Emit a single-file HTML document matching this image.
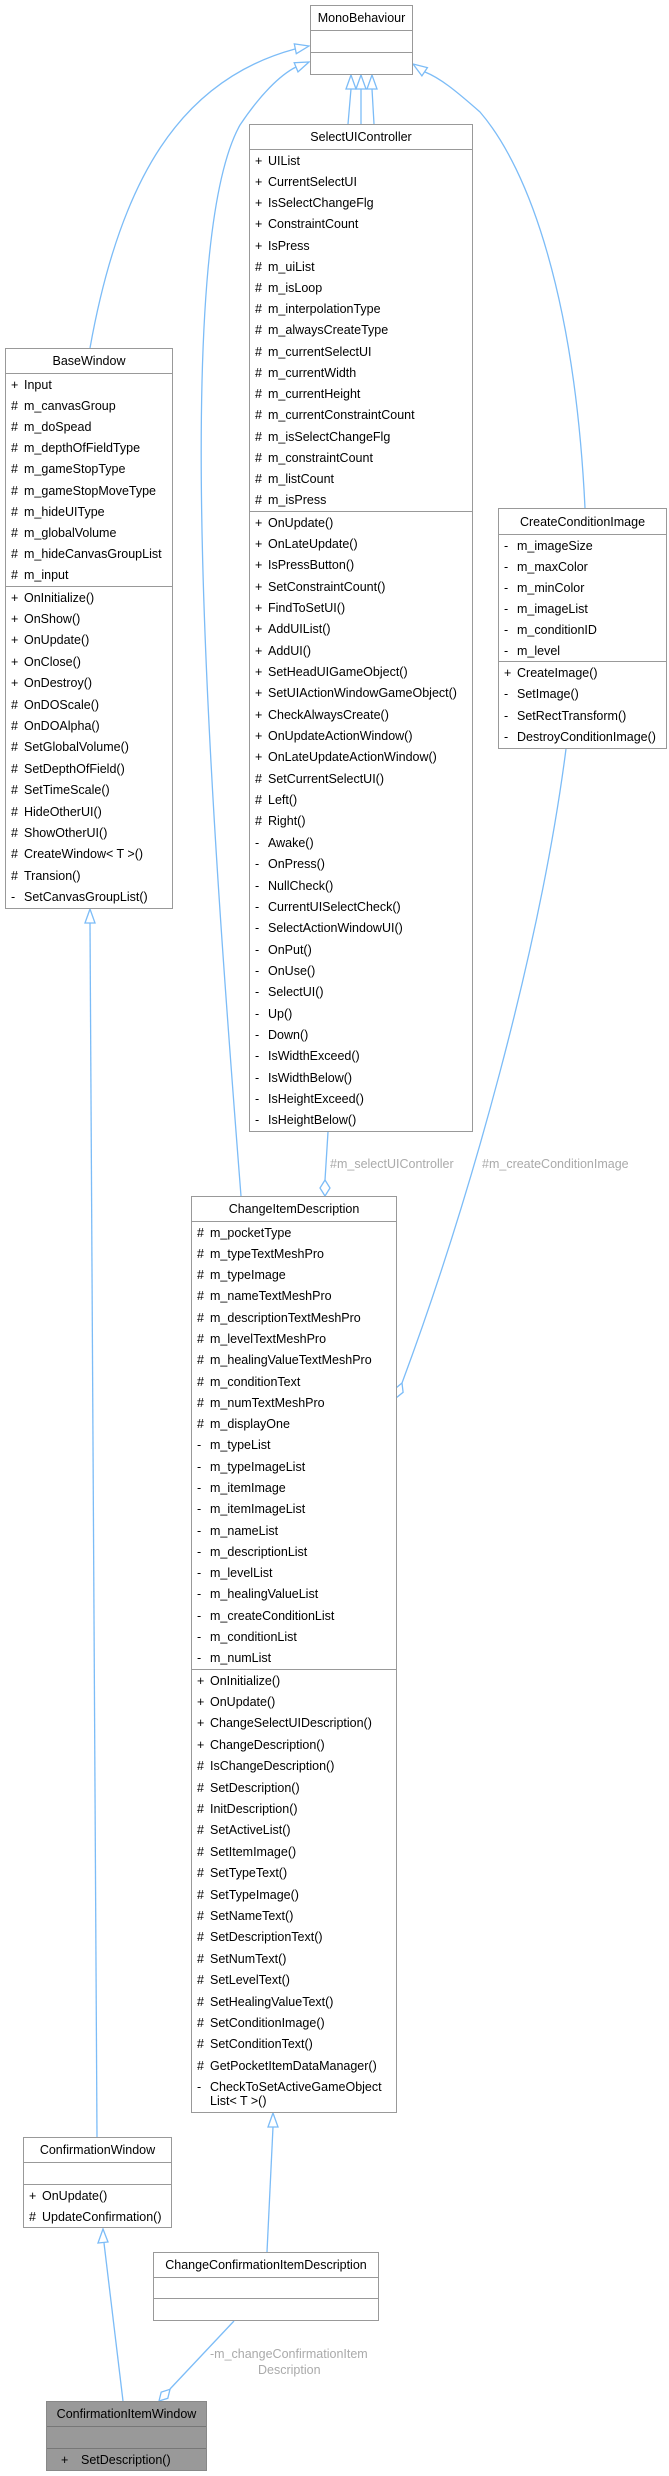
<!DOCTYPE html>
<html><head><meta charset="utf-8"><style>
body{margin:0;width:669px;height:2476px;background:#fff;position:relative;overflow:hidden;font-family:"Liberation Sans",Arial,sans-serif;font-size:12.5px;color:#000}
.b{position:absolute;border:1.5px solid #999;background:#fff;box-sizing:border-box;display:flex;flex-direction:column}
.t{text-align:center;display:flex;align-items:center;justify-content:center;flex:none;white-space:nowrap}
.s{border-top:1.5px solid #999;display:flex;flex-direction:column;justify-content:space-around;flex:none;padding-left:5px;white-space:nowrap;box-sizing:border-box}
.s div{line-height:14px}
.s i{font-style:normal;display:inline-block;width:13px}
.l{position:absolute;color:#aaa;font-size:12.5px;white-space:nowrap}
svg{position:absolute;left:0;top:0}
</style></head><body>
<svg width="669" height="2476" fill="none" stroke="#7cbcf7" stroke-width="1.3">
<path d="M90,348 C120,180 180,80 295,49"/>
<polygon points="309,46 296.3,53.7 294.3,43.9" fill="#fff"/>
<path d="M241,1196 C210,800 170,250 240,125 C260,95 280,75 296,67"/>
<polygon points="309,62 298,71.9 294.2,62.7" fill="#fff"/>
<path d="M348,124 L351,89 M361,124 L361,89 M374,124 L372,89"/>
<polygon points="351,75 346,89 356,89" fill="#fff"/>
<polygon points="361,75 356,89 366,89" fill="#fff"/>
<polygon points="372,75 367,89 377,89" fill="#fff"/>
<path d="M585,508 C575,300 530,170 480,112 C455,90 440,78 425,72"/>
<polygon points="413,64 427.4,67.6 421.9,75.9" fill="#fff"/>
<path d="M566,749 C540,950 470,1200 402,1383"/>
<polygon points="396,1398 403.1,1392.3 402,1383 394.9,1388.9" fill="#fff"/>
<path d="M328,1132 L325,1180"/>
<polygon points="325,1196 320,1188 325,1180 330,1188" fill="#fff"/>
<path d="M97,2137 L90,923"/>
<polygon points="90,909 85,923 95,923" fill="#fff"/>
<path d="M267,2252 L273,2127"/>
<polygon points="273,2113 268,2127 278,2127" fill="#fff"/>
<path d="M123,2401 L104,2243"/>
<polygon points="103,2229 98,2243 108,2242" fill="#fff"/>
<path d="M234,2321 L170,2389"/>
<polygon points="159,2401 167.8,2398.3 170,2389.3 161.2,2392.1" fill="#fff"/>
</svg>

<div class="b" style="left:310px;top:5px;width:103px;height:70px"><div class="t" style="height:24px">MonoBehaviour</div><div class="s" style="height:22px"></div><div class="s" style="flex:1"></div></div>

<div class="b" style="left:249px;top:124px;width:224px;height:1008px"><div class="t" style="height:24px">SelectUIController</div>
<div class="s" style="height:362px"><div><i>+</i>UIList</div><div><i>+</i>CurrentSelectUI</div><div><i>+</i>IsSelectChangeFlg</div><div><i>+</i>ConstraintCount</div><div><i>+</i>IsPress</div><div><i>#</i>m_uiList</div><div><i>#</i>m_isLoop</div><div><i>#</i>m_interpolationType</div><div><i>#</i>m_alwaysCreateType</div><div><i>#</i>m_currentSelectUI</div><div><i>#</i>m_currentWidth</div><div><i>#</i>m_currentHeight</div><div><i>#</i>m_currentConstraintCount</div><div><i>#</i>m_isSelectChangeFlg</div><div><i>#</i>m_constraintCount</div><div><i>#</i>m_listCount</div><div><i>#</i>m_isPress</div></div>
<div class="s" style="flex:1"><div><i>+</i>OnUpdate()</div><div><i>+</i>OnLateUpdate()</div><div><i>+</i>IsPressButton()</div><div><i>+</i>SetConstraintCount()</div><div><i>+</i>FindToSetUI()</div><div><i>+</i>AddUIList()</div><div><i>+</i>AddUI()</div><div><i>+</i>SetHeadUIGameObject()</div><div><i>+</i>SetUIActionWindowGameObject()</div><div><i>+</i>CheckAlwaysCreate()</div><div><i>+</i>OnUpdateActionWindow()</div><div><i>+</i>OnLateUpdateActionWindow()</div><div><i>#</i>SetCurrentSelectUI()</div><div><i>#</i>Left()</div><div><i>#</i>Right()</div><div><i>-</i>Awake()</div><div><i>-</i>OnPress()</div><div><i>-</i>NullCheck()</div><div><i>-</i>CurrentUISelectCheck()</div><div><i>-</i>SelectActionWindowUI()</div><div><i>-</i>OnPut()</div><div><i>-</i>OnUse()</div><div><i>-</i>SelectUI()</div><div><i>-</i>Up()</div><div><i>-</i>Down()</div><div><i>-</i>IsWidthExceed()</div><div><i>-</i>IsWidthBelow()</div><div><i>-</i>IsHeightExceed()</div><div><i>-</i>IsHeightBelow()</div></div></div>

<div class="b" style="left:5px;top:348px;width:168px;height:561px"><div class="t" style="height:24px">BaseWindow</div>
<div class="s" style="height:213px"><div><i>+</i>Input</div><div><i>#</i>m_canvasGroup</div><div><i>#</i>m_doSpead</div><div><i>#</i>m_depthOfFieldType</div><div><i>#</i>m_gameStopType</div><div><i>#</i>m_gameStopMoveType</div><div><i>#</i>m_hideUIType</div><div><i>#</i>m_globalVolume</div><div><i>#</i>m_hideCanvasGroupList</div><div><i>#</i>m_input</div></div>
<div class="s" style="flex:1"><div><i>+</i>OnInitialize()</div><div><i>+</i>OnShow()</div><div><i>+</i>OnUpdate()</div><div><i>+</i>OnClose()</div><div><i>+</i>OnDestroy()</div><div><i>#</i>OnDOScale()</div><div><i>#</i>OnDOAlpha()</div><div><i>#</i>SetGlobalVolume()</div><div><i>#</i>SetDepthOfField()</div><div><i>#</i>SetTimeScale()</div><div><i>#</i>HideOtherUI()</div><div><i>#</i>ShowOtherUI()</div><div><i>#</i>CreateWindow&lt; T &gt;()</div><div><i>#</i>Transion()</div><div><i>-</i>SetCanvasGroupList()</div></div></div>

<div class="b" style="left:498px;top:508px;width:169px;height:241px"><div class="t" style="height:25px">CreateConditionImage</div>
<div class="s" style="height:127px"><div><i>-</i>m_imageSize</div><div><i>-</i>m_maxColor</div><div><i>-</i>m_minColor</div><div><i>-</i>m_imageList</div><div><i>-</i>m_conditionID</div><div><i>-</i>m_level</div></div>
<div class="s" style="flex:1"><div><i>+</i>CreateImage()</div><div><i>-</i>SetImage()</div><div><i>-</i>SetRectTransform()</div><div><i>-</i>DestroyConditionImage()</div></div></div>

<div class="b" style="left:191px;top:1196px;width:206px;height:917px"><div class="t" style="height:24px">ChangeItemDescription</div>
<div class="s" style="height:448px"><div><i>#</i>m_pocketType</div><div><i>#</i>m_typeTextMeshPro</div><div><i>#</i>m_typeImage</div><div><i>#</i>m_nameTextMeshPro</div><div><i>#</i>m_descriptionTextMeshPro</div><div><i>#</i>m_levelTextMeshPro</div><div><i>#</i>m_healingValueTextMeshPro</div><div><i>#</i>m_conditionText</div><div><i>#</i>m_numTextMeshPro</div><div><i>#</i>m_displayOne</div><div><i>-</i>m_typeList</div><div><i>-</i>m_typeImageList</div><div><i>-</i>m_itemImage</div><div><i>-</i>m_itemImageList</div><div><i>-</i>m_nameList</div><div><i>-</i>m_descriptionList</div><div><i>-</i>m_levelList</div><div><i>-</i>m_healingValueList</div><div><i>-</i>m_createConditionList</div><div><i>-</i>m_conditionList</div><div><i>-</i>m_numList</div></div>
<div class="s" style="flex:1"><div><i>+</i>OnInitialize()</div><div><i>+</i>OnUpdate()</div><div><i>+</i>ChangeSelectUIDescription()</div><div><i>+</i>ChangeDescription()</div><div><i>#</i>IsChangeDescription()</div><div><i>#</i>SetDescription()</div><div><i>#</i>InitDescription()</div><div><i>#</i>SetActiveList()</div><div><i>#</i>SetItemImage()</div><div><i>#</i>SetTypeText()</div><div><i>#</i>SetTypeImage()</div><div><i>#</i>SetNameText()</div><div><i>#</i>SetDescriptionText()</div><div><i>#</i>SetNumText()</div><div><i>#</i>SetLevelText()</div><div><i>#</i>SetHealingValueText()</div><div><i>#</i>SetConditionImage()</div><div><i>#</i>SetConditionText()</div><div><i>#</i>GetPocketItemDataManager()</div><div><i>-</i>CheckToSetActiveGameObject<br><i></i>List&lt; T &gt;()</div></div></div>

<div class="b" style="left:23px;top:2137px;width:149px;height:91px"><div class="t" style="height:24px">ConfirmationWindow</div><div class="s" style="height:22px"></div>
<div class="s" style="flex:1"><div><i>+</i>OnUpdate()</div><div><i>#</i>UpdateConfirmation()</div></div></div>

<div class="b" style="left:153px;top:2252px;width:226px;height:69px"><div class="t" style="height:24px">ChangeConfirmationItemDescription</div><div class="s" style="height:21px"></div><div class="s" style="flex:1"></div></div>

<div class="b" style="left:46px;top:2401px;width:161px;height:70px;background:#999;border-color:#888"><div class="t" style="height:24px">ConfirmationItemWindow</div><div class="s" style="height:22px;border-color:#777"></div><div class="s" style="flex:1;border-color:#777;padding-left:14px"><div><i style="width:20px">+</i>SetDescription()</div></div></div>

<div class="l" style="left:330px;top:1157px">#m_selectUIController</div>
<div class="l" style="left:482px;top:1157px">#m_createConditionImage</div>
<div class="l" style="left:210px;top:2347px">-m_changeConfirmationItem</div>
<div class="l" style="left:258px;top:2363px">Description</div>
</body></html>
